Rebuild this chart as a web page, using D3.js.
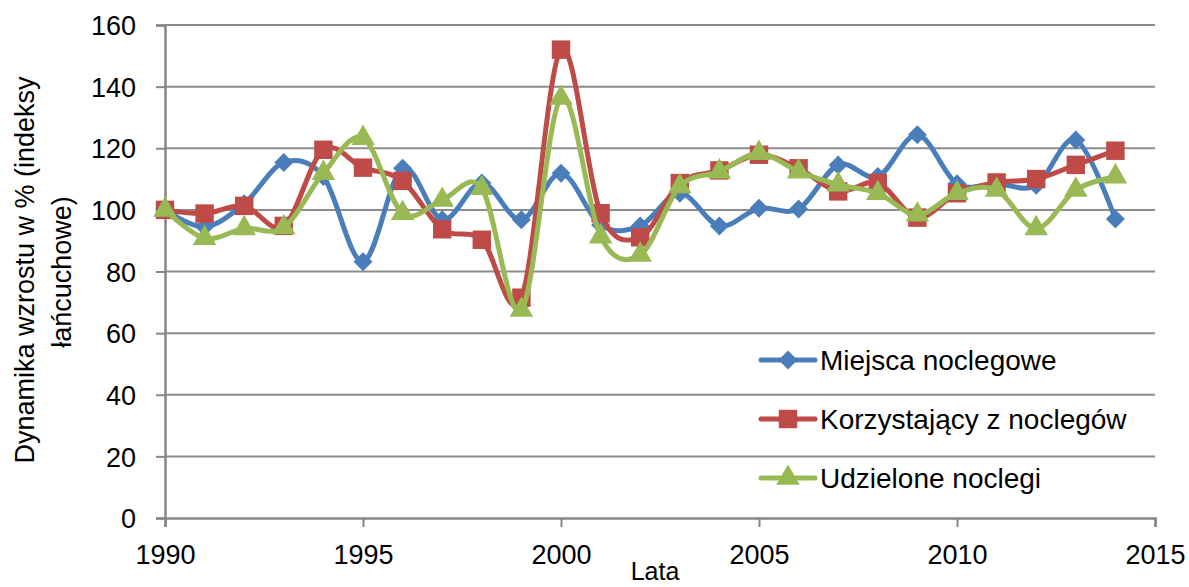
<!DOCTYPE html>
<head>
  <meta charset="utf-8">
  <script src="https://d3js.org/d3.v7.min.js"></script>
  <style>
    body { margin:0; background:#fff; }
    text { font-family: "Liberation Sans", Arial, sans-serif; fill:#000; }
  </style>
</head>
<body>
<script>
  var width = 1189, height = 587;

  // data
  var years = d3.range(1990, 2015);
  var miejsca =     [100, 94.5, 102, 115.4, 110.8, 83.2, 113.5, 96.8, 108.7, 96.8, 111.9, 95.1, 94.8, 105.4, 94.8, 100.5, 100.3, 114.6, 110.8, 124.4, 108.5, 108.5, 108, 122.7, 97];
  var korzystajacy = [100, 98.8, 101.3, 94.8, 119.5, 113.7, 109.4, 93.7, 90.3, 71.5, 152, 98.9, 91.1, 108.7, 112.8, 117.9, 113.5, 106, 108.7, 97.5, 105.4, 108.9, 110, 114.6, 119.2];
  var udzielone =   [100, 90.8, 94, 94.3, 111.9, 123.3, 98.9, 103.2, 107, 67.5, 136.3, 91.3, 85.4, 107.6, 112.4, 118.4, 112.4, 108.2, 105.4, 98.4, 105.4, 106.5, 94, 106.5, 110.8];
  var seriesNames = ["Miejsca noclegowe", "Korzystający z noclegów", "Udzielone noclegi"];
  var seriesColors = ["#4a7ebb", "#be4b48", "#98b954"];
  var xTicks = [1990, 1995, 2000, 2005, 2010, 2015];
  var yTicks = [0, 20, 40, 60, 80, 100, 120, 140, 160];

  var svg = d3.select("body").append("svg")
    .attr("width", width)
    .attr("height", height);

  var x = d3.scaleLinear().domain([1990, 2015]).range([165, 1155]);
  var y = d3.scaleLinear().domain([0, 160]).range([518, 25]);

  // gridlines
  svg.append("g").selectAll("line")
    .data(yTicks.slice(1))
    .enter().append("line")
    .attr("x1", x(1990)).attr("x2", x(2015))
    .attr("y1", function(d) { return y(d); })
    .attr("y2", function(d) { return y(d); })
    .attr("stroke", "#8c8c8c")
    .attr("stroke-width", 2);

  // y axis
  var yAxis = svg.append("g")
    .attr("transform", "translate(" + x(1990) + ",0)")
    .call(d3.axisLeft(y).tickValues(yTicks).tickSize(9).tickPadding(20));
  // x axis
  var xAxis = svg.append("g")
    .attr("transform", "translate(0," + y(0) + ")")
    .call(d3.axisBottom(x).tickValues(xTicks).tickSize(9).tickPadding(18).tickFormat(d3.format("d")));

  [yAxis, xAxis].forEach(function(a) {
    a.select(".domain").attr("stroke", "#868686").attr("stroke-width", 2.5);
    a.selectAll(".tick line").attr("stroke", "#868686").attr("stroke-width", 2);
    a.selectAll(".tick text").attr("font-size", 27).attr("font-family", "Liberation Sans");
  });
  yAxis.selectAll(".tick text").attr("dy", "0.36em");
  xAxis.selectAll(".tick text").attr("dy", "0.72em");

  // axis titles
  svg.append("text")
    .attr("transform", "translate(34,270) rotate(-90)")
    .attr("text-anchor", "middle")
    .attr("font-size", 27)
    .text("Dynamika wzrostu  w % (indeksy");
  svg.append("text")
    .attr("transform", "translate(71,272) rotate(-90)")
    .attr("text-anchor", "middle")
    .attr("font-size", 27)
    .text("łańcuchowe)");
  svg.append("text")
    .attr("x", 655).attr("y", 580)
    .attr("text-anchor", "middle")
    .attr("font-size", 25)
    .text("Lata");

  var line = d3.line()
    .x(function(d, i) { return x(years[i]); })
    .y(function(d) { return y(d); })
    .curve(d3.curveCardinal.tension(0));

  var symbols = [
    d3.symbol().type(d3.symbolDiamond2).size(230),
    d3.symbol().type(d3.symbolSquare).size(340),
    d3.symbol().type(d3.symbolTriangle).size(240)
  ];

  [miejsca, korzystajacy, udzielone].forEach(function(vals, k) {
    var g = svg.append("g");
    g.append("path")
      .attr("d", line(vals))
      .attr("fill", "none")
      .attr("stroke", seriesColors[k])
      .attr("stroke-width", 5);
    g.selectAll("path.m")
      .data(vals)
      .enter().append("path")
      .attr("class", "m")
      .attr("d", symbols[k])
      .attr("transform", function(d, i) { return "translate(" + x(years[i]) + "," + y(d) + ")"; })
      .attr("fill", seriesColors[k]);
  });

  // legend
  var legend = svg.append("g");
  seriesNames.forEach(function(name, k) {
    var ly = 360 + k * 59;
    legend.append("line")
      .attr("x1", 761).attr("x2", 815)
      .attr("y1", ly).attr("y2", ly)
      .attr("stroke", seriesColors[k])
      .attr("stroke-width", 5)
      .attr("stroke-linecap", "round");
    legend.append("path")
      .attr("d", symbols[k])
      .attr("transform", "translate(788," + ly + ")")
      .attr("fill", seriesColors[k]);
    legend.append("text")
      .attr("x", 820).attr("y", ly)
      .attr("dy", "0.35em")
      .attr("font-size", 28)
      .text(name);
  });
</script>
</body>
